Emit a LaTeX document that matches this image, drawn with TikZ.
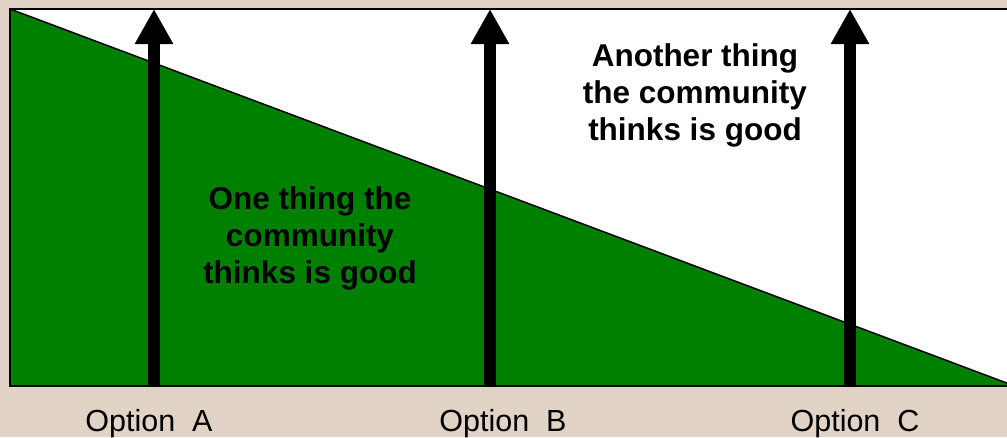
\documentclass[tikz,border=0pt]{standalone}
\usepackage{fontspec}
\setmainfont{Liberation Sans}
\usetikzlibrary{arrows.meta, positioning}
\definecolor{fondo}{HTML}{E1D3C5}
\definecolor{verde}{HTML}{008000}

\begin{document}
\begin{tikzpicture}[
  x=1pt, y=-1pt,
  idea/.style={align=center, inner sep=0pt, font=\fontsize{31.5}{37}\selectfont\bfseries},
  opcion/.style={anchor=base, inner sep=0pt, font=\fontsize{30.5}{36}\selectfont},
  flecha/.style={line width=12pt, -{Triangle[length=35pt, width=36pt]}},
]

% --- Fondo y marco ---
\fill[fondo] (0,0) rectangle (1007,437);
\useasboundingbox (0,0) rectangle (1007,437);
\fill[white] (10,9) rectangle (1012,386);

% --- Cuna verde ---
\coordinate (izqsup) at (10,9);
\coordinate (izqinf) at (10,386);
\coordinate (derinf) at (1012,386);
\coordinate (derpta) at (1012,385);
\fill[verde] (izqsup) -- (derpta) -- (derinf) -- (izqinf) -- cycle;
\draw[line width=1.5pt] (izqsup) -- (derpta);
\draw[line width=2pt] (10,9) rectangle (1012,386);

% --- Flechas ---
\foreach \nom/\x in {a/154, b/490, c/850} {
  \coordinate (pie\nom) at (\x,386);
  \coordinate (tope\nom) at (\x,9);
  \draw[flecha] (pie\nom) -- (tope\nom);
}

% --- Textos ---
\node[idea] (uno)  at (310,238) {One thing the\\community\\thinks is good};
\node[idea] (otro) at (695,95)  {Another thing\\the community\\thinks is good};

% --- Opciones ---
\node[opcion] (opA) at (149,431) {Option\ \ A};
\node[opcion] (opB) at (503,431) {Option\ \ B};
\node[opcion] (opC) at (855,431) {Option\ \ C};

\end{tikzpicture}
\end{document}
